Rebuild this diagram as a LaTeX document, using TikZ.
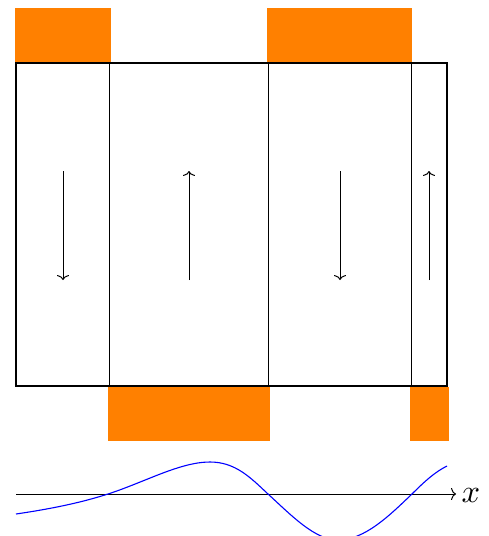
\documentclass[tikz,border=0pt]{standalone}
\usetikzlibrary{arrows.meta}
\begin{document}
\begin{tikzpicture}[x=1pt,y=-1pt,
  >={To[length=5pt,width=12pt]},
  magnet/.style={fill=orange,draw=none},
  wall/.style={line width=1pt},
  frame/.style={line width=2.2pt},
  spin/.style={line width=1pt,->},
  wave/.style={blue,line width=1.1pt}]
\clip (0,0) rectangle (489,536);
\useasboundingbox (0,0) rectangle (489,536);
% magnets
\fill[magnet] (15,8) rectangle (111,63);
\fill[magnet] (267,8) rectangle (412,63);
\fill[magnet] (108,387) rectangle (270,441);
\fill[magnet] (410,387) rectangle (449,441);
% domain walls
\draw[wall] (109,63) -- (109,386);
\draw[wall] (268,63) -- (268,386);
\draw[wall] (411,63) -- (411,386);
% frame
\draw[frame] (16,63) rectangle (447,386);
% magnetization arrows
\draw[spin] (63,171) -- (63,280);
\draw[spin] (189,280) -- (189,171);
\draw[spin] (340,171) -- (340,280);
\draw[spin] (429,280) -- (429,171);
% axis
\coordinate (a0) at (16,494);
\coordinate (a1) at (456,494);
\draw[line width=1pt,->] (a0) -- (a1);
\node[scale=3.25, anchor=west, inner sep=0pt] (xl) at (461,495) {$x$};
% wave
\draw[wave] (16,514) .. controls (50,509) and (80,503) .. (108,494)
  .. controls (145,482) and (180,462) .. (210,462)
  .. controls (235,462) and (250,477) .. (268,494)
  .. controls (292,516) and (315,540) .. (338,540)
  .. controls (365,540) and (390,515) .. (412,494)
  .. controls (425,481) and (435,472) .. (447,466);
\end{tikzpicture}
\end{document}
